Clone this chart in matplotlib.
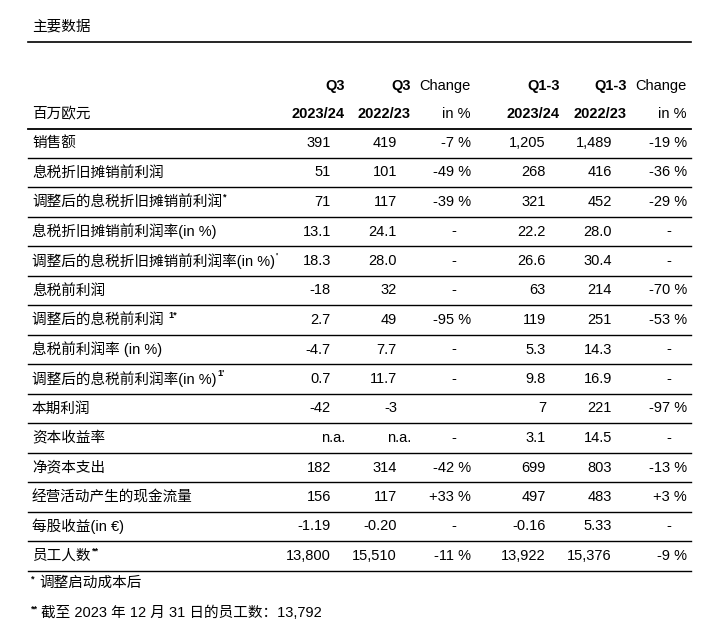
"""
key figures table - redraws the Q3 2023/24 key data table as a figure.
"""
import matplotlib.pyplot as plt

plt.rcParams['font.family'] = ['Liberation Sans', 'Noto Sans CJK SC', 'DejaVu Sans']

title = "主要数据"
unit_label = "百万欧元"
head_top = ["Q3", "Q3", "Change", "Q1-3", "Q1-3", "Change"]
head_bottom = ["2023/24", "2022/23", "in %", "2023/24", "2022/23", "in %"]

labels = ["销售额", "息税折旧摊销前利润", "调整后的息税折旧摊销前利润",
          "息税折旧摊销前利润率(in %)", "调整后的息税折旧摊销前利润率(in %)",
          "息税前利润", "调整后的息税前利润 ", "息税前利润率 (in %)",
          "调整后的息税前利润率(in %)", "本期利润", "资本收益率", "净资本支出",
          "经营活动产生的现金流量", "每股收益(in €)", "员工人数"]
marks = ["", "", "*", "", "'", "", "1*", "", "1'", "", "", "", "", "", "**"]

q3_2324 = ["391", "51", "71", "13.1", "18.3", "-18", "2.7", "-4.7", "0.7",
           "-42", "n.a.", "182", "156", "-1.19", "13,800"]
q3_2223 = ["419", "101", "117", "24.1", "28.0", "32", "49", "7.7", "11.7",
           "-3", "n.a.", "314", "117", "-0.20", "15,510"]
q3_chg = ["-7 %", "-49 %", "-39 %", "-", "-", "-", "-95 %", "-", "-",
          "", "-", "-42 %", "+33 %", "-", "-11 %"]
q13_2324 = ["1,205", "268", "321", "22.2", "26.6", "63", "119", "5.3", "9.8",
            "7", "3.1", "699", "497", "-0.16", "13,922"]
q13_2223 = ["1,489", "416", "452", "28.0", "30.4", "214", "251", "14.3", "16.9",
            "221", "14.5", "803", "483", "5.33", "15,376"]
q13_chg = ["-19 %", "-36 %", "-29 %", "-", "-", "-70 %", "-53 %", "-", "-",
           "-97 %", "-", "-13 %", "+3 %", "-", "-9 %"]

footnotes = [("*", "调整启动成本后"), ("**", "截至 2023 年 12 月 31 日的员工数：13,792")]

columns = [q3_2324, q3_2223, q3_chg, q13_2324, q13_2223, q13_chg]

# layout in pixels
head_right = [345, 411, 471, 560, 627, 687]
num_right = [331, 397, 471, 546, 612, 687]
dash_x = [None, None, 454, None, None, 669]
x_left, x_line0, x_line1 = 32, 28, 691
row0, row_h = 143, 29.5
fs = 10.5

fig = plt.figure(figsize=(7.25, 6.29), dpi=100)
ax = fig.add_axes([0, 0, 1, 1])
ax.set_xlim(0, 725)
ax.set_ylim(629, 0)
ax.axis("off")

ax.text(x_left, 26, title, fontsize=10.5, va="center", family=["Noto Sans CJK SC"])
ax.plot([x_line0, x_line1], [42, 42], color="black", lw=1.2)

# header
for i in range(6):
    bold_top = head_top[i] != "Change"
    bold_bot = head_bottom[i] != "in %"
    ax.text(head_right[i], 86, head_top[i], ha="right", va="center", fontsize=fs,
            fontweight="bold" if bold_top else "normal")
    ax.text(head_right[i], 114, head_bottom[i], ha="right", va="center", fontsize=fs,
            fontweight="bold" if bold_bot else "normal")
ax.text(x_left, 114, unit_label, va="center", fontsize=fs)
ax.plot([x_line0, x_line1], [129, 129], color="black", lw=1.3)

fig.canvas.draw()
renderer = fig.canvas.get_renderer()

for r, lab in enumerate(labels):
    y = row0 + r * row_h
    t = ax.text(x_left, y, lab, va="center", fontsize=fs)
    if marks[r]:
        bb = t.get_window_extent(renderer)
        x_end = ax.transData.inverted().transform((bb.x1, bb.y1))[0]
        ax.text(x_end + 1, y - 5, marks[r], va="center", fontsize=6.5, fontweight="bold")
    for c, col in enumerate(columns):
        v = col[r]
        if v == "-":
            ax.text(dash_x[c], y, v, ha="center", va="center", fontsize=fs)
        elif v == "n.a.":
            ax.text(head_right[c], y, v, ha="right", va="center", fontsize=fs)
        elif v:
            ax.text(num_right[c], y, v, ha="right", va="center", fontsize=fs)
    yl = y + row_h / 2
    ax.plot([x_line0, x_line1], [yl, yl], color="black", lw=1.0)

for k, (m, note) in enumerate(footnotes):
    y = 583 + k * 30
    ax.text(x_left - 1, y - 4, m, va="center", fontsize=6.5, fontweight="bold")
    ax.text(x_left + 7 + 2 * k, y, note, va="center", fontsize=fs)

fig.savefig("out.png", dpi=100)
